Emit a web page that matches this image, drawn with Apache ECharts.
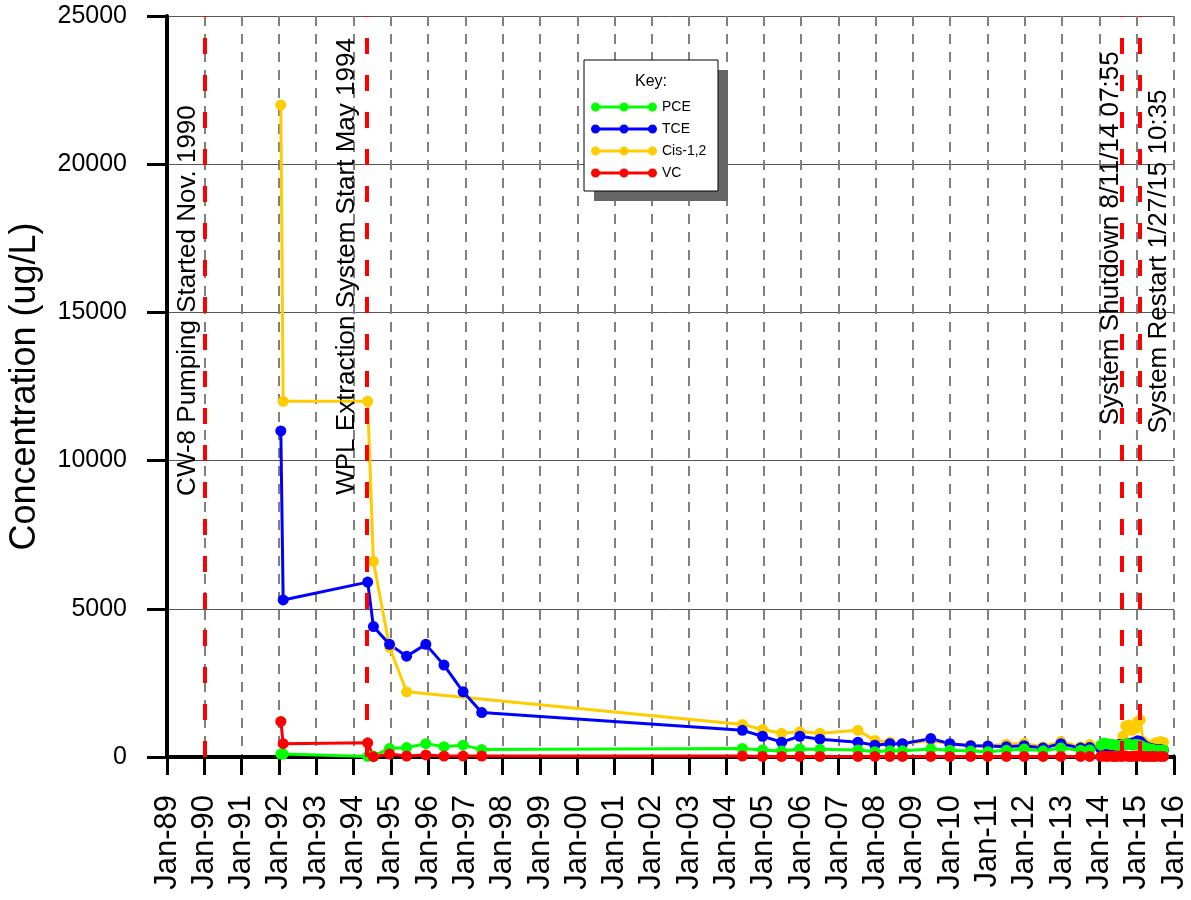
<!DOCTYPE html>
<html>
<head>
<meta charset="utf-8">
<script src="https://cdn.jsdelivr.net/npm/echarts/dist/echarts.min.js"></script>
<style>
html,body{margin:0;padding:0;background:#ffffff;}
#chart{width:1191px;height:900px;}
</style>
</head>
<body>
<div id="chart"></div>
<script>
// ---------------- DATA ----------------
const seriesNames = ['PCE', 'TCE', 'Cis-1,2', 'VC'];

const sampleDates = [
  '1992-01-20', '1992-02-12', '1994-05-20', '1994-07-15', '1994-12-20',
  '1995-06-05', '1995-12-10', '1996-06-05', '1996-12-10', '1997-06-10',
  '2004-06-05', '2004-12-20', '2005-06-25', '2005-12-20', '2006-07-05',
  '2007-07-12', '2007-12-25', '2008-05-20', '2008-09-20', '2009-06-25',
  '2009-12-28', '2010-07-20', '2011-01-05', '2011-07-05', '2011-12-25',
  '2012-06-28', '2012-12-20', '2013-07-01', '2013-09-28',
  '2014-01-15', '2014-02-15', '2014-03-15', '2014-04-15', '2014-05-15',
  '2014-06-15', '2014-07-15', '2014-08-05', '2014-08-20', '2014-09-15',
  '2014-10-15', '2014-11-15', '2014-12-15',
  '2015-01-10', '2015-02-05', '2015-03-05', '2015-04-05', '2015-05-05',
  '2015-06-05', '2015-07-05', '2015-08-20', '2015-09-20'
];

const pceValues = [
  100, 100, 20, 30, 290, 320, 450, 350, 400, 250,
  290, 240, 200, 270, 260, 240, 180, 210, 210, 270,
  230, 200, 180, 230, 270, 210, 300, 230, 240,
  400, 470, 450, 430, 420, 400, 380, 400, 420, 430, 440, 400, 420,
  420, 400, 350, 300, 280, 260, 240, 230, 240
];

const tceValues = [
  11000, 5300, 5900, 4400, 3800, 3400, 3800, 3100, 2200, 1500,
  900, 700, 500, 700, 600, 500, 400, 450, 450, 620,
  450, 380, 370, 350, 380, 300, 450, 300, 320,
  280, 320, 300, 380, 400, 380, 420, 400, 420, 430, 450, 470, 500,
  550, 520, 420, 350, 300, 280, 260, 250, 230
];

const cisValues = [
  22000, 12000, 12000, 6600, 3700, 2200, null, null, null, null,
  1100, 930, 800, 850, 800, 900, 560, 500, 450, 560,
  450, 400, 380, 430, 460, 350, 520, 350, 420,
  300, 350, 330, 400, 380, 350, 450, 420, 700, 1050, 1080, 900, 950,
  1200, 1250, 520, 420, 380, 420, 480, 520, 500
];

const vcValues = [
  1200, 450, 480, 10, 100, 30, 70, 30, 30, 30,
  30, 20, 20, 20, 20, 20, 20, 20, 20, 20,
  20, 20, 20, 20, 20, 20, 20, 20, 20,
  20, 30, 20, 30, 20, 20, 30, 20, 40, 30, 20, 20, 30,
  30, 40, 20, 20, 20, 20, 20, 20, 20
];

const eventDates = ['1990-01-01', '1994-05-12', '2014-08-11', '2015-01-27'];
const eventLabels = [
  'CW-8 Pumping Started Nov. 1990',
  'WPL Extraction System Start May 1994',
  'System Shutdown 8/11/14 07:55',
  'System Restart 1/27/15 10:35'
];

const xMinYear = 1989, xMaxYear = 2016;
const yMin = 0, yMax = 25000, yStep = 5000;

// ---------------- STYLE ----------------
const FONT = "'Liberation Sans', Arial, Helvetica, sans-serif";
const colors = { 'PCE': '#00ff00', 'TCE': '#0000ff', 'Cis-1,2': '#ffcc00', 'VC': '#ff0000' };
// label placement (pixel offset from line, vertical centre in data units)
const eventLabelLayout = [
  { dx: -16, yMid: 15400 },
  { dx: -20, yMid: 16550 },
  { dx: -11, yMid: 17500 },
  { dx: 19, yMid: 16720 }
];

function toYear(s) {
  const [y, m, d] = s.split('-').map(Number);
  const start = Date.UTC(y, 0, 1), end = Date.UTC(y + 1, 0, 1);
  return y + (Date.UTC(y, m - 1, d) - start) / (end - start);
}
function pairs(vals) {
  return sampleDates.map((d, i) => [toYear(d), vals[i]]).filter(p => p[1] !== null);
}

const legendIcon = 'path://M0,4.5A4.5,4.5,0,1,1,9,4.5A4.5,4.5,0,1,1,0,4.5Z' +
  'M28.5,4.5A4.5,4.5,0,1,1,37.5,4.5A4.5,4.5,0,1,1,28.5,4.5Z' +
  'M57,4.5A4.5,4.5,0,1,1,66,4.5A4.5,4.5,0,1,1,57,4.5Z' +
  'M4.5,3L61.5,3L61.5,6L4.5,6Z';

function lineSeries(name, vals, extra) {
  return Object.assign({
    name: name,
    type: 'line',
    data: pairs(vals),
    symbol: 'circle',
    symbolSize: 11,
    showAllSymbol: true,
    connectNulls: true,
    lineStyle: { color: colors[name], width: 3 },
    itemStyle: { color: colors[name], borderWidth: 0 },
    emphasis: { disabled: true },
    animation: false
  }, extra || {});
}

const chart = echarts.init(document.getElementById('chart'), null, { renderer: 'canvas' });

const option = {
  animation: false,
  backgroundColor: '#ffffff',
  textStyle: { fontFamily: FONT },
  grid: { left: 167, right: 17, top: 16, bottom: 143, containLabel: false, outerBoundsMode: 'none' },
  xAxis: [{
    type: 'value',
    min: xMinYear, max: xMaxYear, interval: 1,
    axisLine: { show: true, onZero: false, lineStyle: { color: '#000', width: 4 } },
    axisTick: { show: true, length: 18, lineStyle: { color: '#000', width: 3 } },
    axisLabel: {
      show: true, rotate: 90, margin: 38, fontSize: 31, color: '#000', fontFamily: FONT,
      showMinLabel: true, showMaxLabel: true,
      formatter: v => 'Jan-' + ('0' + (Math.round(v) % 100)).slice(-2)
    },
    splitLine: { show: true, lineStyle: { color: '#808080', width: 2, type: [10, 8] } }
  }, {
    type: 'value', position: 'top',
    min: xMinYear, max: xMaxYear,
    axisLine: { show: true, lineStyle: { color: '#000', width: 4 } },
    axisTick: { show: false }, axisLabel: { show: false }, splitLine: { show: false }
  }],
  yAxis: {
    type: 'value',
    min: yMin, max: yMax, interval: yStep,
    name: 'Concentration (ug/L)',
    nameLocation: 'middle',
    nameGap: 124,
    nameTextStyle: { fontSize: 36, color: '#000', fontFamily: FONT },
    axisLine: { show: true, onZero: false, lineStyle: { color: '#000', width: 4 } },
    axisTick: { show: true, length: 20, lineStyle: { color: '#000', width: 3 } },
    axisLabel: { margin: 40, fontSize: 25, color: '#000', fontFamily: FONT, formatter: v => String(v) },
    splitLine: { show: true, lineStyle: { color: '#555555', width: 1 } }
  },
  legend: {
    data: ['PCE', 'TCE', 'Cis-1,2', 'VC'],
    orient: 'vertical',
    left: 591, top: 100,
    padding: 0,
    itemGap: 8,
    itemWidth: 66, itemHeight: 9,
    icon: legendIcon,
    itemStyle: { borderWidth: 0 },
    selectedMode: false,
    z: 20,
    textStyle: { fontSize: 14, color: '#000', fontFamily: FONT }
  },
  series: [
    lineSeries('Cis-1,2', cisValues),
    lineSeries('TCE', tceValues),
    lineSeries('PCE', pceValues),
    lineSeries('VC', vcValues, {
      markLine: {
        silent: true,
        symbol: ['none', 'none'],
        label: { show: false },
        lineStyle: { color: '#ff0000', width: 4, type: [16, 21] },
        emphasis: { disabled: true },
        data: eventDates.map(d => ({ xAxis: toYear(d) }))
      }
    })
  ]
};

chart.setOption(option);

const graphics = [
  { type: 'rect', z: 15, shape: { x: 594, y: 70, width: 134, height: 131 }, style: { fill: '#666666' } },
  { type: 'rect', z: 16, shape: { x: 584, y: 60, width: 134, height: 131 }, style: { fill: '#ffffff', stroke: '#000000', lineWidth: 1 } },
  { type: 'text', z: 17, x: 651, y: 82, style: { text: 'Key:', fontSize: 16, fontFamily: FONT, fill: '#000', align: 'center', verticalAlign: 'middle' } }
];
eventDates.forEach((d, i) => {
  const p = chart.convertToPixel({ xAxisIndex: 0, yAxisIndex: 0 }, [toYear(d), eventLabelLayout[i].yMid]);
  graphics.push({
    type: 'text', z: 12,
    x: p[0] + eventLabelLayout[i].dx, y: p[1],
    rotation: Math.PI / 2,
    style: { text: eventLabels[i], fontSize: 26, fontFamily: FONT, fill: '#000', align: 'center', verticalAlign: 'middle' }
  });
});
chart.setOption({ graphic: graphics });
</script>
</body>
</html>
